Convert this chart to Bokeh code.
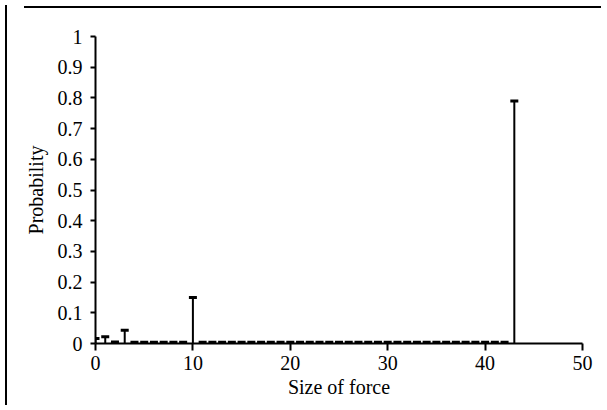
from bokeh.plotting import figure
from bokeh.models import FixedTicker, Range1d, Div
from bokeh.layouts import row, column
from bokeh.embed import file_html
from bokeh.resources import INLINE

# Data
sizes = [0, 1, 2, 3, 4, 5, 6, 7, 8, 9,
         10, 11, 12, 13, 14, 15, 16, 17, 18, 19,
         20, 21, 22, 23, 24, 25, 26, 27, 28, 29,
         30, 31, 32, 33, 34, 35, 36, 37, 38, 39,
         40, 41, 42, 43]
probs = [0.016, 0.022, 0.005, 0.043, 0.004, 0.004, 0.004, 0.004, 0.004, 0.004,
         0.15, 0.004, 0.004, 0.004, 0.004, 0.004, 0.004, 0.004, 0.004, 0.004,
         0.004, 0.004, 0.004, 0.004, 0.004, 0.004, 0.004, 0.004, 0.004, 0.004,
         0.004, 0.004, 0.004, 0.004, 0.004, 0.004, 0.004, 0.004, 0.004, 0.004,
         0.004, 0.004, 0.004, 0.79]
x_ticks = [0, 10, 20, 30, 40, 50]
y_ticks = [0, 0.1, 0.2, 0.3, 0.4, 0.5, 0.6, 0.7, 0.8, 0.9, 1]
y_tick_labels = ["0", "0.1", "0.2", "0.3", "0.4", "0.5", "0.6", "0.7", "0.8", "0.9", "1"]
x_label = "Size of force"
y_label = "Probability"

FONT = "Liberation Serif"

p = figure(width=589, height=392, output_backend="svg", toolbar_location=None,
           x_range=Range1d(0, 50), y_range=Range1d(0, 1),
           min_border_left=83, min_border_right=19, min_border_top=28, min_border_bottom=56)
p.outline_line_color = None
p.xgrid.visible = False
p.ygrid.visible = False
p.background_fill_color = "white"
p.border_fill_color = "white"

for ax in (p.xaxis[0], p.yaxis[0]):
    ax.axis_line_color = "black"
    ax.axis_line_width = 2
    ax.major_tick_line_color = "black"
    ax.major_tick_line_width = 2
    ax.minor_tick_line_color = None
    ax.major_tick_in = 0
    ax.major_label_text_font = FONT
    ax.major_label_text_font_size = "20px"
    ax.major_label_text_color = "black"
    ax.axis_label_text_font = FONT
    ax.axis_label_text_font_size = "20px"
    ax.axis_label_text_font_style = "normal"
    ax.axis_label_text_color = "black"

p.xaxis.ticker = FixedTicker(ticks=x_ticks)
p.yaxis.ticker = FixedTicker(ticks=y_ticks)
p.yaxis.major_label_overrides = {t: s for t, s in zip(y_ticks, y_tick_labels)}
p.xaxis.major_tick_out = 7
p.yaxis.major_tick_out = 5
p.xaxis.major_label_standoff = 5
p.yaxis.major_label_standoff = 8
p.xaxis.axis_label = x_label
p.yaxis.axis_label = y_label
p.xaxis.axis_label_standoff = 3
p.yaxis.axis_label_standoff = 8

zeros = [0] * len(sizes)
p.segment(x0=sizes, y0=zeros, x1=sizes, y1=probs, line_color="black", line_width=2)
p.scatter(x=sizes, y=probs, marker="dash", size=8, line_color="black", line_width=3)

# page frame rules (left rule and top rule) as plain decoration
left_rule = Div(text="", width=2, height=400, styles={"background-color": "black"})
top_line = Div(text="", width=577, height=2, margin=(6, 0, 0, 12),
               styles={"background-color": "black"})
layout = row(left_rule, column(top_line, p, spacing=0), spacing=0)

open("out.html", "w").write(file_html(layout, INLINE))
